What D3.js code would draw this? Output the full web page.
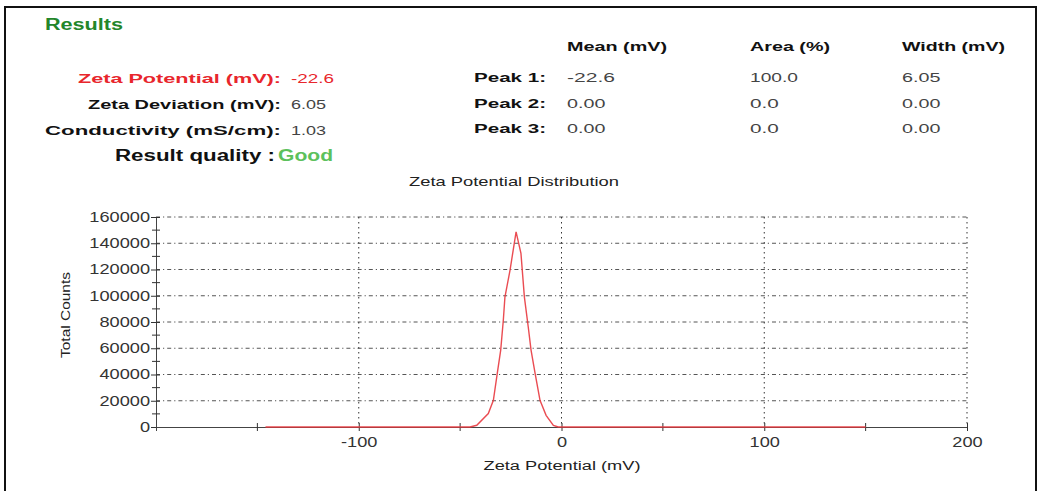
<!DOCTYPE html>
<html>
<head>
<meta charset="utf-8">
<script src="https://cdn.jsdelivr.net/npm/d3@7"></script>
<style>
  body { margin: 0; background: #fff; }
  text { font-family: "Liberation Sans", Arial, sans-serif; }
</style>
</head>
<body>
<div id="chart"></div>
<script>
// summary values (top-left block)
var summaryLabels = ["Zeta Potential (mV):", "Zeta Deviation (mV):", "Conductivity (mS/cm):"];
var summaryValues = ["-22.6", "6.05", "1.03"];

// peak table
var peakHeaders = ["Mean (mV)", "Area (%)", "Width (mV)"];
var peakLabels = ["Peak 1:", "Peak 2:", "Peak 3:"];
var peakMean = ["-22.6", "0.00", "0.00"];
var peakArea = ["100.0", "0.0", "0.0"];
var peakWidth = ["6.05", "0.00", "0.00"];

// distribution curve
var zeta   = [-146, -45.1, -41.8, -36.1, -33.6, -31.7, -30.0, -28.7, -27.9, -25.4, -22.4,
              -20.0, -18.3, -16.4, -15.0, -13.0, -10.6, -7.6, -4.0, -1.6, 150];
var counts = [0, 0, 1300, 10200, 20300, 40700, 58400, 81300, 99000, 119400, 148600,
              132300, 99000, 76200, 58400, 40700, 20300, 8900, 1300, 0, 0];

var yTicks = [0, 20000, 40000, 60000, 80000, 100000, 120000, 140000, 160000];
var yMinor = [10000, 30000, 50000, 70000, 90000, 110000, 130000, 150000];
var xTicks = [-100, 0, 100, 200];
var xMinor = [-150, -50, 50, 150];

var W = 1040, H = 491;
var svg = d3.select("#chart").append("svg").attr("width", W).attr("height", H);

// outer frame
svg.append("rect").attr("x", 5).attr("y", 7).attr("width", 1031).attr("height", 500)
  .attr("fill", "none").attr("stroke", "#111").attr("stroke-width", 2);

// text helper: stretch each string to its measured width in the picture
function txt(s, x, y, len, o) {
  o = o || {};
  var t = svg.append("text").attr("x", x).attr("y", y).text(s)
    .attr("font-size", o.size || 13)
    .attr("font-weight", o.bold ? "bold" : "normal")
    .attr("fill", o.color || "#222")
    .attr("text-anchor", o.anchor || "start");
  if (len) t.attr("textLength", len).attr("lengthAdjust", "spacingAndGlyphs");
  return t;
}

txt("Results", 45, 30, 78, {size: 16, bold: true, color: "#23862a"});

var rowY = [83, 109, 135];
var labLen = [203, 193, 236];
var valLen = [43, 35, 35];
summaryLabels.forEach(function(s, i) {
  txt(s, 281, rowY[i], labLen[i], {bold: true, anchor: "end", color: i == 0 ? "#e8262c" : "#111"});
  txt(summaryValues[i], 291, rowY[i], valLen[i], {color: i == 0 ? "#e8262c" : "#444"});
});
txt("Result quality :", 115, 161, 160, {size: 16, bold: true, color: "#111"});
txt("Good", 278, 161, 55, {size: 16, bold: true, color: "#5cc15c"});

// peak table
var colX = [567, 750, 902];
var headLen = [100, 80, 103];
peakHeaders.forEach(function(s, i) { txt(s, colX[i], 51, headLen[i], {bold: true, color: "#111"}); });
var pRowY = [82, 108, 133];
var cols = [peakMean, peakArea, peakWidth];
function vlen(s) { return s.length * 9.6; }
peakLabels.forEach(function(s, i) {
  txt(s, 546, pRowY[i], 72, {bold: true, anchor: "end", color: "#111"});
  cols.forEach(function(c, j) { txt(c[i], colX[j], pRowY[i], vlen(c[i]), {color: "#444"}); });
});

// chart
var plotL = 156, plotR = 967, plotT = 217, plotB = 427;
var x = d3.scaleLinear().domain([-200, 200]).range([plotL, plotR]);
var y = d3.scaleLinear().domain([0, 160000]).range([plotB, plotT]);

txt("Zeta Potential Distribution", 514, 186, 210, {anchor: "middle", color: "#222"});
txt("Zeta Potential (mV)", 562, 470, 157, {anchor: "middle", size: 12.5, color: "#222"});
svg.append("text").attr("transform", "translate(70,315) rotate(-90)")
  .attr("text-anchor", "middle").attr("font-size", 12.5).attr("fill", "#222")
  .attr("textLength", 86).attr("lengthAdjust", "spacingAndGlyphs").text("Total Counts");

var grid = svg.append("g");
grid.selectAll(".hg").data(yTicks.slice(1)).enter().append("line")
  .attr("x1", plotL).attr("x2", plotR).attr("y1", function(d) { return y(d); }).attr("y2", function(d) { return y(d); })
  .attr("stroke", "#555").attr("stroke-dasharray", "4,3,1.2,3");
grid.selectAll(".vg").data(xTicks).enter().append("line")
  .attr("x1", function(d) { return x(d); }).attr("x2", function(d) { return x(d); })
  .attr("y1", plotT).attr("y2", plotB).attr("stroke", "#333").attr("stroke-dasharray", "1.5,3.5");

var fmt = function(d) { return String(d); };
var yAxis = svg.append("g").attr("transform", "translate(" + plotL + ",0)")
  .call(d3.axisLeft(y).tickValues(yTicks).tickSize(5).tickFormat(fmt));
var xAxis = svg.append("g").attr("transform", "translate(0," + plotB + ")")
  .call(d3.axisBottom(x).tickValues(xTicks).tickSize(4).tickFormat(fmt));
[yAxis, xAxis].forEach(function(a) {
  a.select(".domain").attr("stroke", "#444");
  a.selectAll(".tick line").attr("stroke", "#333");
  a.selectAll("text").attr("font-size", 14).attr("fill", "#333")
    .attr("font-family", "'Liberation Sans', Arial, sans-serif");
});
// ticks cross the axis lines
yAxis.selectAll(".tick line").attr("x1", 4);
xAxis.selectAll(".tick line").attr("y1", -4);
yAxis.selectAll(".tick text").attr("transform", "translate(-6,0) scale(1.3,1)").attr("x", 0);
xAxis.selectAll(".tick text").attr("transform", "translate(0,6) scale(1.3,1)").attr("y", 4);

svg.append("g").selectAll("line").data(yMinor).enter().append("line")
  .attr("x1", plotL - 4).attr("x2", plotL + 4).attr("y1", function(d) { return y(d); }).attr("y2", function(d) { return y(d); })
  .attr("stroke", "#333");
svg.append("g").selectAll("line").data(xMinor).enter().append("line")
  .attr("x1", function(d) { return x(d); }).attr("x2", function(d) { return x(d); })
  .attr("y1", plotB - 4).attr("y2", plotB + 4).attr("stroke", "#333");

var pts = zeta.map(function(z, i) { return [z, counts[i]]; });
svg.append("path").datum(pts)
  .attr("fill", "none").attr("stroke", "#e8383f").attr("stroke-width", 1.4).attr("stroke-opacity", 0.9)
  .attr("d", d3.line().x(function(d) { return x(d[0]); }).y(function(d) { return y(d[1]); }));
</script>
</body>
</html>
